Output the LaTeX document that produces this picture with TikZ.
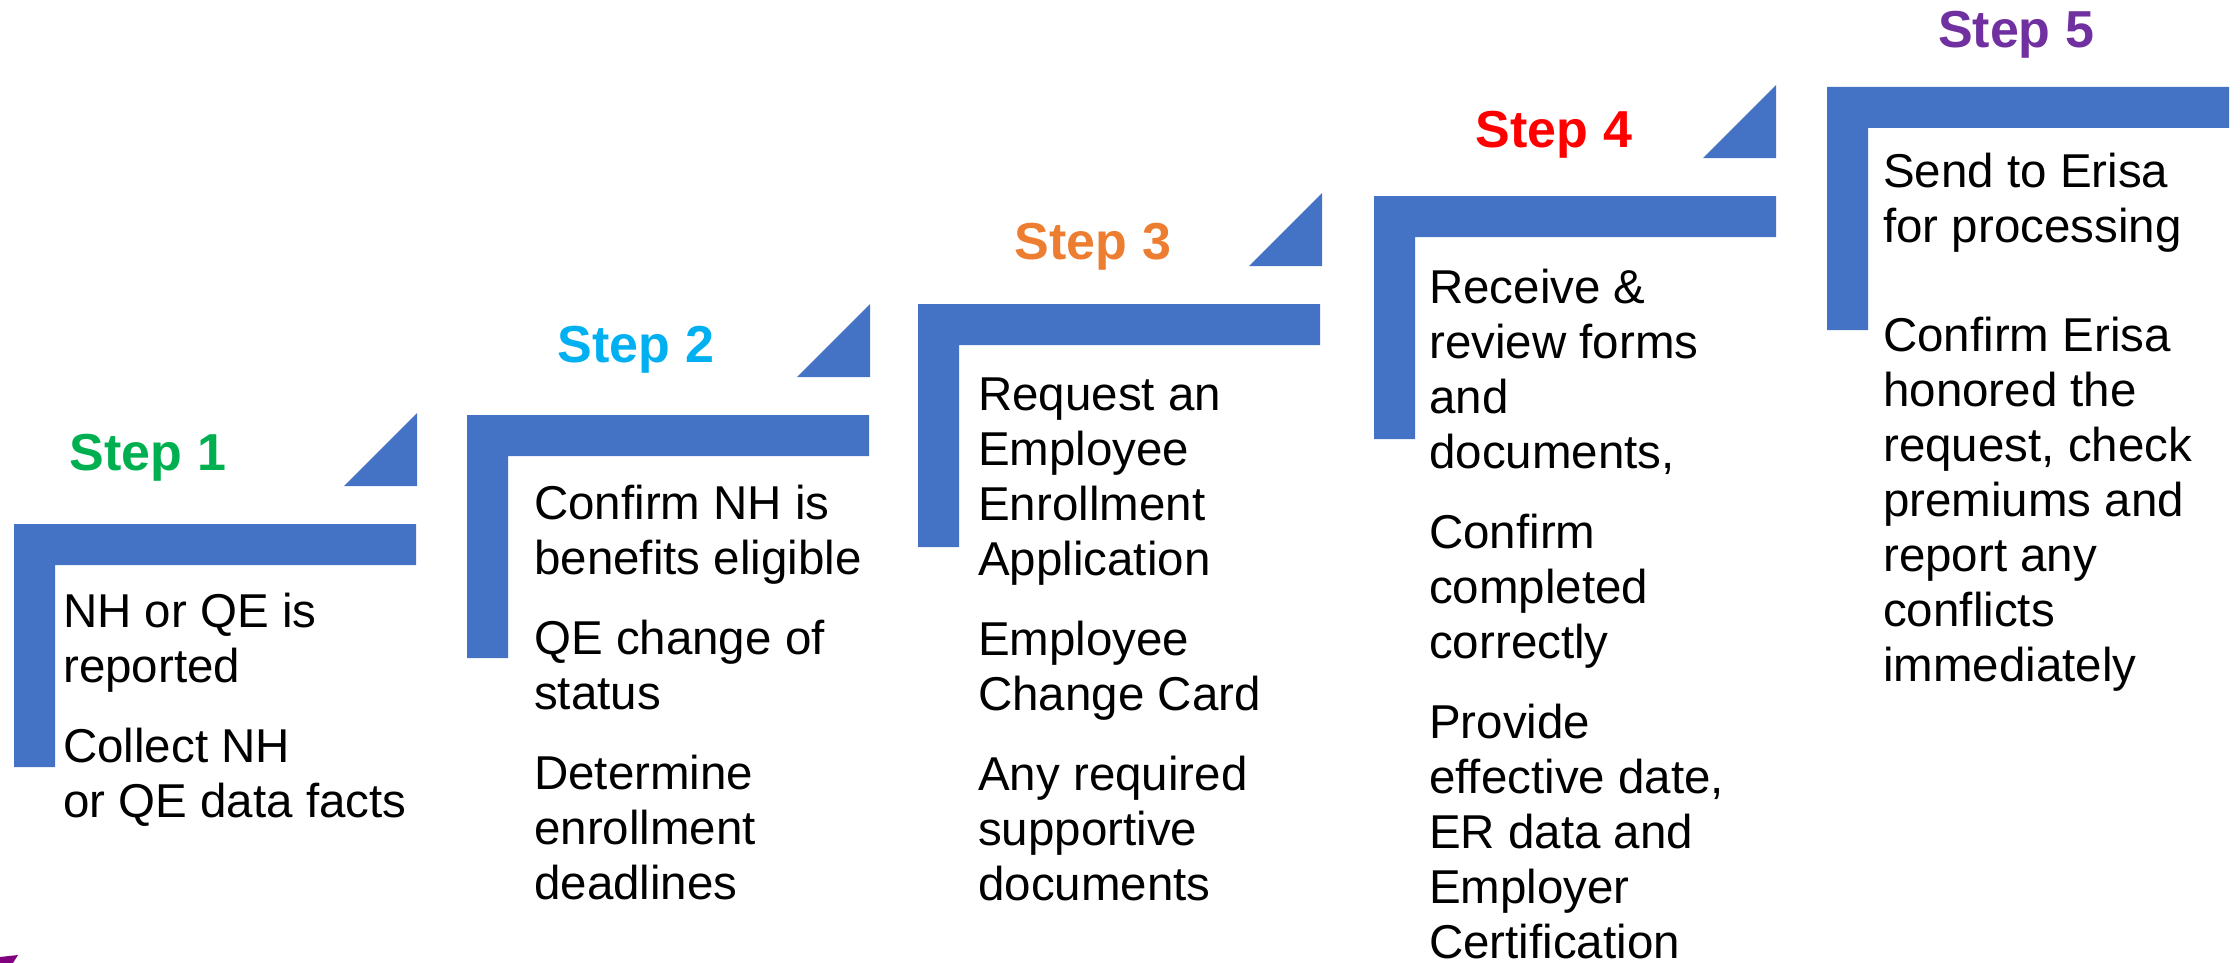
\documentclass[tikz,border=0pt]{standalone}
\usepackage{fontspec}
\setmainfont{Liberation Sans}
\definecolor{stepblue}{HTML}{4472C4}
\definecolor{stepgreen}{HTML}{00B050}
\definecolor{stepcyan}{HTML}{00B0F0}
\definecolor{steporange}{HTML}{ED7D31}
\definecolor{stepred}{HTML}{FF0000}
\definecolor{steppurple}{HTML}{7030A0}
\definecolor{logopurple}{HTML}{800080}
\begin{document}
\begin{tikzpicture}[x=1pt,y=-1pt,
  bracket/.style={fill=stepblue},
  corner/.style={fill=stepblue},
  steplabel/.style={anchor=base, inner sep=0pt, font=\fontsize{52}{60}\selectfont\bfseries},
  stepbody/.style={anchor=base west, inner sep=0pt, font=\fontsize{47.5}{55}\selectfont}]
\useasboundingbox (0,0) rectangle (2240,963);
\clip (0,0) rectangle (2240,963);

% L-shaped brackets, one per step, climbing to the right
\foreach \x/\y in {14/524, 467/415, 918/304, 1374/196, 1827/87} {
  \fill[bracket] (\x,\y) -- ++(402,0) -- ++(0,41) -- ++(-361,0)
                 -- ++(0,202) -- ++(-41,0) -- cycle;
}
% small corner triangles above the right end of each bracket
\foreach \x/\y in {417/486, 870/377, 1322/266, 1776/158} {
  \fill[corner] (\x,\y) -- ++(0,-73) -- ++(-73,73) -- cycle;
}

% step headings
\node[steplabel, text=stepgreen]  (h1) at (148,470)  {Step 1};
\node[steplabel, text=stepcyan]   (h2) at (636,362)  {Step 2};
\node[steplabel, text=steporange] (h3) at (1093,259) {Step 3};
\node[steplabel, text=stepred]    (h4) at (1554,147) {Step 4};
\node[steplabel, text=steppurple] (h5) at (2016,48)  {Step 5};

% step descriptions
\node[stepbody] (b1) at (63,627) {\parbox[t]{400pt}{%
  NH or QE is\\reported\\[25pt]Collect NH\\or QE data facts}};
\node[stepbody] (b2) at (534,519) {\parbox[t]{400pt}{%
  Confirm NH is\\benefits eligible\\[25pt]QE change of\\status\\[25pt]Determine\\enrollment\\deadlines}};
\node[stepbody] (b3) at (978,410) {\parbox[t]{400pt}{%
  Request an\\Employee\\Enrollment\\Application\\[25pt]Employee\\Change Card\\[25pt]Any required\\supportive\\documents}};
\node[stepbody] (b4) at (1429,303) {\parbox[t]{400pt}{%
  Receive \&\\review forms\\and\\documents,\\[25pt]Confirm\\completed\\correctly\\[25pt]Provide\\effective date,\\ER data and\\Employer\\Certification}};
\node[stepbody] (b5) at (1883,187) {\parbox[t]{400pt}{%
  Send to Erisa\\for processing\\[54pt]Confirm Erisa\\honored the\\request, check\\premiums and\\report any\\conflicts\\immediately}};

% corner of the logo mark at the lower left edge
\fill[logopurple] (0,957) -- (18,955) -- (13,963) -- (0,963) -- cycle;
\end{tikzpicture}
\end{document}
